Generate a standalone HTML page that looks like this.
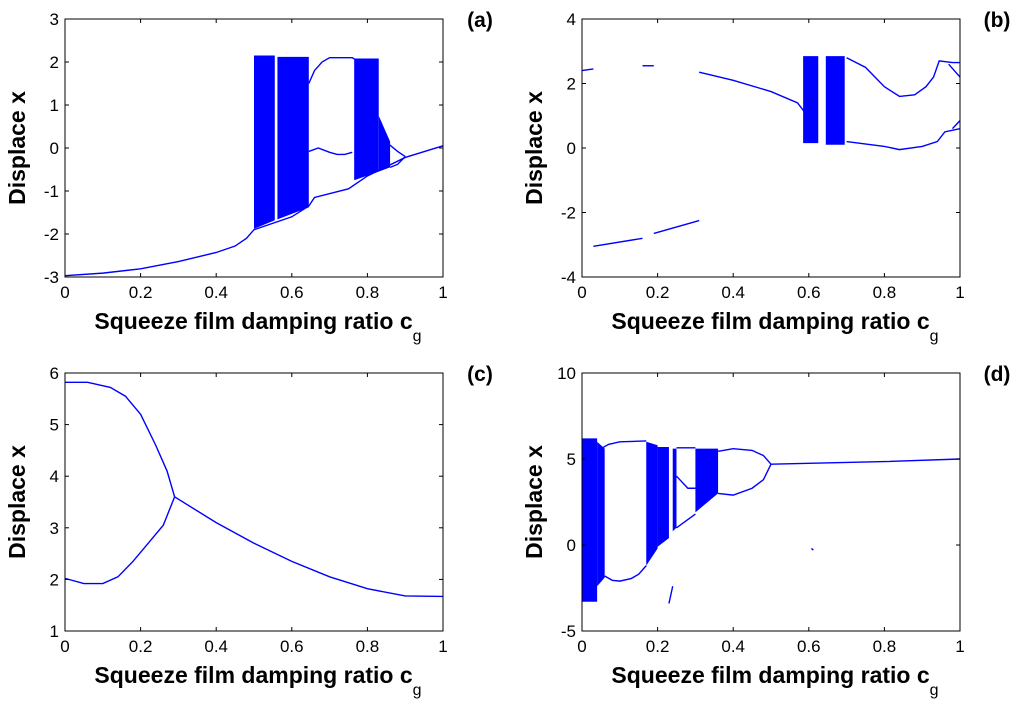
<!DOCTYPE html>
<html><head><meta charset="utf-8"><style>
html,body{margin:0;padding:0;background:#fff;}
svg{display:block;font-family:"Liberation Sans",Arial,sans-serif;}
</style></head><body>
<svg id="fig" width="1024" height="709" viewBox="0 0 1024 709"></svg>
<script>
// ---- Panel (a) data ----
const aYTicks = [-3,-2,-1,0,1,2,3];
const aLines = [
  [[0,-2.97],[0.1,-2.91],[0.2,-2.81],[0.3,-2.64],[0.4,-2.43],[0.45,-2.28],[0.48,-2.1],[0.5,-1.9],[0.6,-1.6],[0.645,-1.35],[0.66,-1.15],[0.75,-0.95],[0.8,-0.65],[0.9,-0.22],[1,0.05]],
  [[0.645,1.5],[0.66,1.8],[0.68,2.0],[0.7,2.1],[0.76,2.1],[0.775,2.02]],
  [[0.645,-0.08],[0.67,0.0],[0.7,-0.1],[0.72,-0.15],[0.74,-0.15],[0.76,-0.1]],
  [[0.855,0.1],[0.88,-0.08],[0.9,-0.2]],
  [[0.86,-0.45],[0.88,-0.38],[0.9,-0.2]]
];
const aBands = [
  [[0.5,-1.88,2.15],[0.555,-1.68,2.15]],
  [[0.562,-1.66,2.12],[0.645,-1.38,2.12]],
  [[0.765,-0.75,2.08],[0.83,-0.55,2.08]],
  [[0.83,-0.55,0.75],[0.86,-0.45,0.15]]
];
// ---- Panel (b) data ----
const bYTicks = [-4,-2,0,2,4];
const bLines = [
  [[0,2.4],[0.03,2.45]],
  [[0.16,2.55],[0.19,2.55]],
  [[0.31,2.35],[0.4,2.1],[0.5,1.75],[0.57,1.4],[0.59,1.1]],
  [[0.03,-3.05],[0.16,-2.8]],
  [[0.19,-2.65],[0.31,-2.25]],
  [[0.7,2.8],[0.75,2.5],[0.8,1.9],[0.84,1.6],[0.88,1.65],[0.91,1.9],[0.93,2.2],[0.945,2.7],[0.98,2.65],[1,2.65]],
  [[0.97,2.6],[1,2.2]],
  [[0.7,0.2],[0.8,0.05],[0.84,-0.05],[0.9,0.05],[0.94,0.2],[0.96,0.5],[1,0.6]],
  [[0.98,0.6],[1,0.85]]
];
const bBands = [
  [[0.585,0.15,2.85],[0.625,0.15,2.85]],
  [[0.645,0.1,2.85],[0.695,0.1,2.85]]
];
// ---- Panel (c) data ----
const cYTicks = [1,2,3,4,5,6];
const cLines = [
  [[0,5.82],[0.06,5.82],[0.12,5.72],[0.16,5.55],[0.2,5.2],[0.24,4.6],[0.27,4.1],[0.29,3.6]],
  [[0,2.02],[0.05,1.92],[0.1,1.92],[0.14,2.05],[0.18,2.35],[0.22,2.7],[0.26,3.05],[0.29,3.6]],
  [[0.29,3.6],[0.4,3.1],[0.5,2.7],[0.6,2.35],[0.7,2.05],[0.8,1.82],[0.9,1.68],[1,1.67]]
];
const cBands = [];
// ---- Panel (d) data ----
const dYTicks = [-5,0,5,10];
const dLines = [
  [[0.05,5.6],[0.07,5.85],[0.1,6.0],[0.17,6.05]],
  [[0.06,-1.8],[0.08,-2.05],[0.1,-2.1],[0.13,-1.95],[0.15,-1.7],[0.17,-1.2]],
  [[0.25,5.65],[0.3,5.65]],
  [[0.25,4.0],[0.28,3.3],[0.3,3.3]],
  [[0.25,1.0],[0.3,1.8]],
  [[0.36,5.45],[0.4,5.6],[0.45,5.5],[0.48,5.2],[0.5,4.7]],
  [[0.36,3.0],[0.4,2.9],[0.45,3.3],[0.48,3.8],[0.5,4.7]],
  [[0.5,4.7],[0.6,4.75],[0.8,4.85],[1,5.0]],
  [[0.607,-0.2],[0.612,-0.3]],
  [[0.23,-3.4],[0.24,-2.4]]
];
const dBands = [
  [[0,-3.3,6.2],[0.04,-3.3,6.2]],
  [[0.04,-2.4,6.0],[0.06,-1.9,5.6]],
  [[0.17,-1.2,6.0],[0.2,-0.2,5.8]],
  [[0.2,-0.1,5.7],[0.23,0.4,5.7]],
  [[0.24,0.8,5.6],[0.25,1.0,5.6]],
  [[0.3,1.9,5.6],[0.36,3.0,5.6]]
];

const NS = "http://www.w3.org/2000/svg";
const svg = document.getElementById('fig');
function mk(tag, attrs, parent){
  const e = document.createElementNS(NS, tag);
  for (const k in attrs) e.setAttribute(k, attrs[k]);
  (parent||svg).appendChild(e);
  return e;
}
const panels = [
  {id:'a', L:65, T:19, yTicks:aYTicks, lines:aLines, bands:aBands},
  {id:'b', L:582, T:19, yTicks:bYTicks, lines:bLines, bands:bBands},
  {id:'c', L:65, T:373, yTicks:cYTicks, lines:cLines, bands:cBands},
  {id:'d', L:582, T:373, yTicks:dYTicks, lines:dLines, bands:dBands}
];
const W = 378, H = 258;
const xTicks = [0,0.2,0.4,0.6,0.8,1];
panels.forEach(p=>{
  const g = mk('g', {});
  
  
  const y0 = p.yTicks[0], y1 = p.yTicks[p.yTicks.length-1];
  const sx = v => p.L + v * W;
  const sy = v => p.T + H - (v - y0) / (y1 - y0) * H;
  p.bands.forEach(b=>{
    const pts = b.map(q=>sx(q[0])+','+sy(q[2])).concat(b.slice().reverse().map(q=>sx(q[0])+','+sy(q[1])));
    const poly = mk('polygon', {points:pts.join(' '), fill:'#0000ff'}, g);
    
    
  });
  p.lines.forEach(l=>{
    const pl = mk('polyline', {points:l.map(q=>sx(q[0])+','+sy(q[1])).join(' '), fill:'none', stroke:'#0000ff', 'stroke-width':1.4}, g);
    
    
  });
  const fr = mk('rect', {x:p.L, y:p.T, width:W, height:H, fill:'none', stroke:'#000', 'stroke-width':1}, g);
  
  
  xTicks.forEach(t=>{
    const x = sx(t);
    mk('line', {x1:x, x2:x, y1:p.T+H, y2:p.T+H-4, stroke:'#000'}, g);
    mk('line', {x1:x, x2:x, y1:p.T, y2:p.T+4, stroke:'#000'}, g);
    const tx = mk('text', {x:x, y:p.T+H+21, 'text-anchor':'middle', 'font-size':17, fill:'#000'}, g);
    tx.textContent = String(t);
    
    
  });
  p.yTicks.forEach(t=>{
    const y = sy(t);
    mk('line', {x1:p.L, x2:p.L+4, y1:y, y2:y, stroke:'#000'}, g);
    mk('line', {x1:p.L+W, x2:p.L+W-4, y1:y, y2:y, stroke:'#000'}, g);
    const ty = mk('text', {x:p.L-6, y:y+6, 'text-anchor':'end', 'font-size':17, fill:'#000'}, g);
    ty.textContent = String(t);
    
    
  });
  const xt = mk('text', {x:p.L+W/2+4, y:p.T+H+52, 'text-anchor':'middle', 'font-size':23, 'font-weight':'bold', fill:'#000'}, g);
  xt.textContent = 'Squeeze film damping ratio c';
  
  
  const sub = mk('tspan', {dy:12, 'font-size':16, 'font-weight':'normal'}, xt);
  sub.textContent = 'g';
  const yt = mk('text', {x:0, y:0, 'text-anchor':'middle', 'font-size':23, 'font-weight':'bold', fill:'#000', transform:'translate('+(p.L-40)+','+(p.T+H/2)+') rotate(-90)'}, g);
  yt.textContent = 'Displace x';
  
  
  const pl = mk('text', {x:p.L+W+37, y:p.T+8, 'text-anchor':'middle', 'font-size':21, 'font-weight':'bold', fill:'#000'}, g);
  pl.textContent = '(' + p.id + ')';
  
  
});
</script>
</body></html>
